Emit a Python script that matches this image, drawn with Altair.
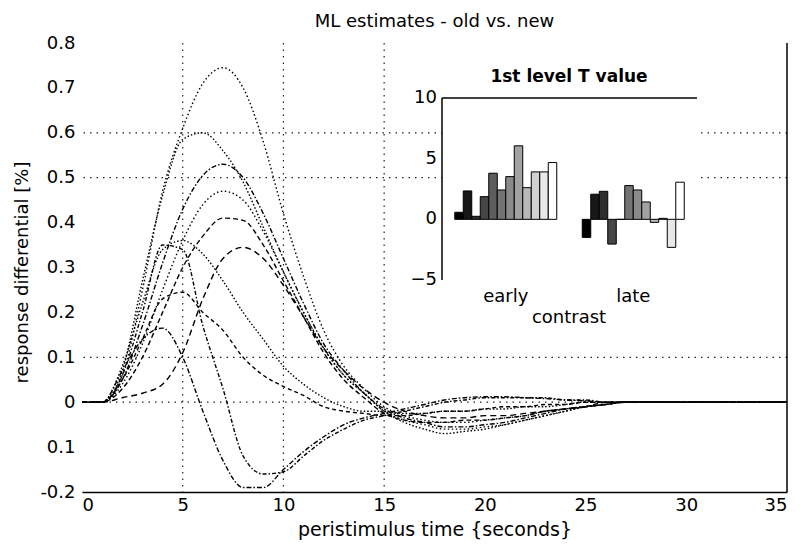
import altair as alt
import pandas as pd

# ---------------- main plot data ----------------
T = list(range(0, 28)) + [30, 35]

CURVE_NAMES = ["A", "B", "C", "D", "E", "F", "G", "H", "I", "K"]
A = [0, 0, 0.06, 0.25, 0.47, 0.61, 0.71, 0.745, 0.70, 0.58, 0.42, 0.28, 0.16, 0.08, 0.03, -0.01, -0.03, -0.04, -0.045, -0.045, -0.04, -0.035, -0.03, -0.02, -0.015, -0.01, -0.005, 0, 0, 0]
B = [0, 0, 0.07, 0.27, 0.46, 0.585, 0.60, 0.56, 0.49, 0.39, 0.29, 0.20, 0.12, 0.06, 0.02, -0.02, -0.045, -0.06, -0.07, -0.065, -0.06, -0.05, -0.04, -0.03, -0.02, -0.01, -0.005, 0, 0, 0]
C = [0, 0, 0.05, 0.17, 0.31, 0.43, 0.505, 0.53, 0.50, 0.42, 0.32, 0.22, 0.13, 0.07, 0.02, -0.015, -0.035, -0.045, -0.055, -0.055, -0.05, -0.045, -0.035, -0.025, -0.015, -0.01, -0.005, 0, 0, 0]
D = [0, 0, 0.04, 0.13, 0.25, 0.36, 0.44, 0.47, 0.45, 0.38, 0.29, 0.20, 0.12, 0.06, 0.02, -0.02, -0.04, -0.05, -0.06, -0.06, -0.055, -0.05, -0.04, -0.03, -0.02, -0.01, -0.005, 0, 0, 0]
E = [0, 0, 0.03, 0.10, 0.20, 0.30, 0.37, 0.41, 0.405, 0.35, 0.27, 0.19, 0.11, 0.05, 0.01, -0.025, -0.04, -0.045, -0.045, -0.04, -0.04, -0.035, -0.03, -0.02, -0.015, -0.01, 0, 0, 0, 0]
F = [0, 0, 0.01, 0.02, 0.04, 0.11, 0.23, 0.32, 0.345, 0.32, 0.26, 0.19, 0.12, 0.07, 0.03, 0.0, -0.02, -0.03, -0.035, -0.035, -0.03, -0.03, -0.025, -0.02, -0.015, -0.01, -0.005, 0, 0, 0]
G = [0, 0, 0.06, 0.20, 0.35, 0.34, 0.17, 0.03, -0.12, -0.16, -0.155, -0.12, -0.085, -0.06, -0.04, -0.03, -0.02, -0.01, 0, 0.005, 0.01, 0.01, 0.01, 0.01, 0.005, 0.005, 0, 0, 0, 0]
H = [0, 0, 0.08, 0.22, 0.34, 0.36, 0.33, 0.27, 0.20, 0.14, 0.08, 0.04, 0.01, -0.01, -0.02, -0.02, -0.025, -0.025, -0.02, -0.02, -0.015, -0.015, -0.01, -0.01, -0.005, 0, 0, 0, 0, 0]
I = [0, 0, 0.07, 0.14, 0.165, 0.10, -0.02, -0.13, -0.19, -0.19, -0.15, -0.11, -0.077, -0.05, -0.035, -0.025, -0.015, -0.005, 0.005, 0.01, 0.012, 0.012, 0.01, 0.008, 0.005, 0.003, 0, 0, 0, 0]
K = [0, 0, 0.05, 0.14, 0.23, 0.245, 0.20, 0.16, 0.10, 0.06, 0.035, 0.015, -0.01, -0.02, -0.025, -0.03, -0.03, -0.025, -0.02, -0.02, -0.015, -0.01, -0.01, -0.005, -0.005, 0, 0, 0, 0, 0]
CURVES = [A, B, C, D, E, F, G, H, I, K]
DASHES = [[1.5, 2.5], [1.5, 2], [5, 2, 1.5, 2], [1.5, 2.5], [5, 3], [6, 4], [4, 2, 1.5, 2], [1.5, 2], [5, 2, 1.5, 2], [4, 3]]

X_TICKS = [0, 5, 10, 15, 20, 25, 30, 35]
Y_TICKS = [-0.2, -0.1, 0, 0.1, 0.2, 0.3, 0.4, 0.5, 0.6, 0.7, 0.8]
GRID_X = [5, 10, 15]
GRID_Y = [0.6, 0.5, 0.1, 0]
X_RIGHT = [35]

TITLE = "ML estimates - old vs. new"
X_TITLE = "peristimulus time {seconds}"
Y_TITLE = "response differential [%]"

# ---------------- inset data ----------------
CONTRASTS = ["early", "late"]
BAR_EARLY = [0.58, 2.34, 0.25, 1.87, 3.80, 2.42, 3.52, 6.06, 2.61, 3.91, 3.91, 4.68]
BAR_LATE = [-1.49, 2.07, 2.31, -2.04, 0.0, 2.78, 2.42, 1.43, -0.25, 0.08, -2.31, 3.06]
GRAYS = ["#000000", "#171717", "#2e2e2e", "#464646", "#5d5d5d", "#747474",
         "#8b8b8b", "#a2a2a2", "#b9b9b9", "#d1d1d1", "#e8e8e8", "#ffffff"]
INSET_TITLE = "1st level T value"
INSET_X_TITLE = "contrast"
INSET_Y_TICKS = [-5, 0, 5, 10]
INSET_Y_EDGES = [10, -5]

FONT = "DejaVu Sans"

# ---------------- build tables ----------------
rows = []
for name, vals in zip(CURVE_NAMES, CURVES):
    for t, v in zip(T, vals):
        rows.append({"series": name, "t": t, "v": v})
curves_df = pd.DataFrame(rows)

bar_rows = []
for c, vals in zip(CONTRASTS, [BAR_EARLY, BAR_LATE]):
    for i, v in enumerate(vals):
        bar_rows.append({"contrast": c, "series": i + 1, "value": v})
bars_df = pd.DataFrame(bar_rows)

x_scale = alt.Scale(domain=[0, 35], nice=False, zero=False)
y_scale = alt.Scale(domain=[-0.2, 0.8], nice=False, zero=False)

grid_style = dict(color="#222222", strokeDash=[1.5, 5], strokeWidth=1.2)

vgrid = alt.Chart(pd.DataFrame({"t": GRID_X})).mark_rule(**grid_style).encode(
    x=alt.X("t:Q", scale=x_scale, title=X_TITLE)
)
hgrid = alt.Chart(pd.DataFrame({"v": GRID_Y})).mark_rule(**grid_style).encode(
    y=alt.Y("v:Q", scale=y_scale, title=Y_TITLE)
)

lines = alt.Chart(curves_df).mark_line(color="black", strokeWidth=1.4, interpolate="monotone").encode(
    x=alt.X("t:Q", scale=x_scale,
            axis=alt.Axis(values=X_TICKS, title=X_TITLE, grid=False, ticks=False,
                          domain=True, domainColor="black", domainWidth=1.5,
                          labelFontSize=18, titleFontSize=19, labelPadding=4, titlePadding=6,
                          labelColor="black", titleColor="black", titleFontWeight="normal",
                          labelFont=FONT, titleFont=FONT)),
    y=alt.Y("v:Q", scale=y_scale,
            axis=alt.Axis(values=Y_TICKS, title=Y_TITLE, grid=False, ticks=False, domain=False,
                          labelExpr="datum.value == 0 ? '0' : (datum.value < -0.15 ? '-0.2' : format(abs(datum.value), '.1f'))",
                          labelFontSize=18, titleFontSize=18, labelPadding=7, titlePadding=8,
                          titleY=229,
                          labelColor="black", titleColor="black", titleFontWeight="normal",
                          labelFont=FONT, titleFont=FONT)),
    strokeDash=alt.StrokeDash("series:N", scale=alt.Scale(domain=CURVE_NAMES, range=DASHES), legend=None),
)

right_border = alt.Chart(pd.DataFrame({"t": X_RIGHT})).mark_rule(color="black", strokeWidth=1.5).encode(
    x=alt.X("t:Q", scale=x_scale, title=X_TITLE)
)

main = alt.layer(vgrid, hgrid, lines, right_border)

# ---------------- inset (drawn from its own scales) ----------------
inset_x_scale = alt.Scale(domain=CONTRASTS, range=[360, 615], paddingInner=0.2, paddingOuter=0.1)
inset_y_scale = alt.Scale(domain=[-5, 10], range=[237, 55], nice=False, zero=False)

white_box = alt.Chart(pd.DataFrame({"a": [0]})).mark_rect(fill="white").encode(
    x=alt.value(360), x2=alt.value(615),
    y=alt.datum(10, scale=inset_y_scale, axis=None), y2=alt.datum(-5),
)

bars = alt.Chart(bars_df).mark_bar(stroke="black", strokeWidth=1).encode(
    x=alt.X("contrast:N", sort=CONTRASTS, scale=inset_x_scale, axis=None),
    xOffset=alt.XOffset("series:O", scale=alt.Scale(paddingInner=0, paddingOuter=0)),
    y=alt.Y("value:Q", scale=inset_y_scale, axis=None),
    fill=alt.Fill("series:O", scale=alt.Scale(range=GRAYS), legend=None),
)

top_line = alt.Chart(pd.DataFrame({"value": [10]})).mark_rule(color="black", strokeWidth=1.5).encode(
    x=alt.value(360), x2=alt.value(615),
    y=alt.Y("value:Q", scale=inset_y_scale, axis=None),
)

left_line = alt.Chart(pd.DataFrame({"value": [INSET_Y_EDGES[0]], "value2": [INSET_Y_EDGES[1]]})).mark_rule(
    color="black", strokeWidth=1.5).encode(
    x=alt.value(360),
    y=alt.Y("value:Q", scale=inset_y_scale, axis=None), y2="value2:Q",
)

y_labels = alt.Chart(pd.DataFrame({"value": INSET_Y_TICKS})).mark_text(
    font=FONT, fontSize=18, color="black", align="right", baseline="middle"
).encode(
    x=alt.value(355),
    y=alt.Y("value:Q", scale=inset_y_scale, axis=None),
    text=alt.Text("value:Q", format="d"),
)

x_labels = alt.Chart(pd.DataFrame({"contrast": CONTRASTS})).mark_text(
    font=FONT, fontSize=18, color="black", align="center", baseline="middle"
).encode(
    x=alt.X("contrast:N", sort=CONTRASTS, scale=inset_x_scale, axis=None),
    y=alt.value(254),
    text="contrast:N",
)

x_title = alt.Chart(pd.DataFrame({"label": [INSET_X_TITLE]})).mark_text(
    font=FONT, fontSize=18, color="black", align="center", baseline="middle"
).encode(x=alt.value(487), y=alt.value(275), text="label:N")

inset_title = alt.Chart(pd.DataFrame({"label": [INSET_TITLE]})).mark_text(
    font=FONT, fontSize=17, fontWeight="bold", color="black", baseline="middle", align="center"
).encode(x=alt.value(487), y=alt.value(34), text="label:N")

inset = alt.layer(white_box, bars, top_line, left_line, y_labels, x_labels, x_title, inset_title)

chart = alt.layer(main, inset).resolve_scale(
    x="independent", y="independent"
).properties(
    width=705, height=449,
    title=alt.TitleParams(TITLE, fontSize=18, fontWeight="normal", font=FONT, color="black",
                          anchor="middle", frame="group", offset=3),
    autosize=alt.AutoSizeParams(type="none"),
    padding={"left": 82, "top": 43, "right": 16, "bottom": 54},
).configure_view(stroke=None)

chart.save("out.html", embed_options={"renderer": "svg", "actions": False})
